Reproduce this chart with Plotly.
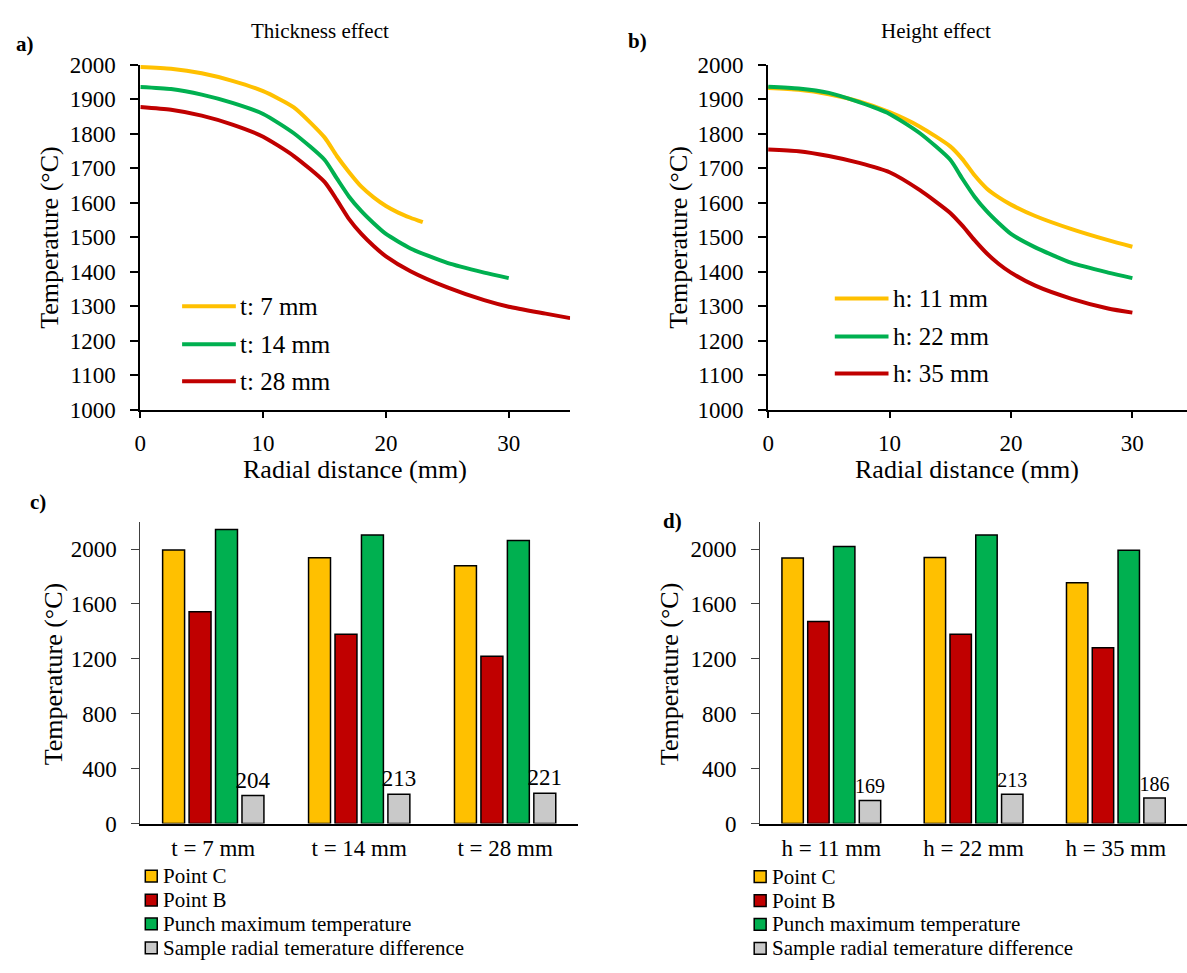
import plotly.graph_objects as go

W, H = 1187, 973
FONT = "Liberation Serif"

# ---- Panel a: thickness effect (radial distance mm, temperature C)
a_x_t7 = [0, 2.5, 5, 7.5, 10, 12.5, 15, 16, 17, 18, 19, 20, 21, 22, 23]
a_y_t7 = [1993, 1988, 1975, 1953, 1923, 1876, 1789, 1735, 1688, 1646, 1615, 1590, 1571, 1556, 1543]
a_x_t14 = [0, 2.5, 5, 7.5, 10, 12.5, 15, 16, 17, 18, 19, 20, 22, 25, 28, 30]
a_y_t14 = [1935, 1929, 1913, 1889, 1857, 1801, 1724, 1670, 1617, 1575, 1540, 1509, 1467, 1425, 1397, 1381]
a_x_t28 = [0, 2.5, 5, 7.5, 10, 12.5, 15, 16, 17, 18, 19, 20, 22, 25, 28, 30, 33, 35]
a_y_t28 = [1877, 1869, 1852, 1826, 1791, 1735, 1660, 1608, 1552, 1509, 1474, 1444, 1401, 1354, 1317, 1298, 1278, 1265]

# ---- Panel b: height effect
b_x = [0, 2.5, 5, 7.5, 10, 12.5, 15, 16, 17, 18, 19, 20, 22, 25, 28, 30]
b_y_h11 = [1932, 1927, 1914, 1893, 1862, 1820, 1763, 1726, 1679, 1641, 1615, 1594, 1561, 1523, 1491, 1472]
b_y_h22 = [1936, 1931, 1918, 1891, 1857, 1801, 1724, 1669, 1617, 1575, 1540, 1509, 1470, 1425, 1397, 1381]
b_y_h35 = [1754, 1749, 1735, 1715, 1688, 1636, 1570, 1533, 1491, 1453, 1422, 1397, 1359, 1321, 1293, 1281]

# ---- Panel c: thickness bars
c_cats = ["t = 7 mm", "t = 14 mm", "t = 28 mm"]
c_point_c = [1993, 1936, 1879]
c_point_b = [1543, 1380, 1219]
c_punch = [2142, 2102, 2062]
c_diff = [204, 213, 221]

# ---- Panel d: height bars
d_cats = ["h = 11 mm", "h = 22 mm", "h = 35 mm"]
d_point_c = [1934, 1938, 1754]
d_point_b = [1472, 1380, 1280]
d_punch = [2019, 2102, 1991]
d_diff = [169, 213, 186]

line_names_a = ["t: 7 mm", "t: 14 mm", "t: 28 mm"]
line_names_b = ["h: 11 mm", "h: 22 mm", "h: 35 mm"]
bar_names = ["Point C", "Point B", "Punch maximum temperature", "Sample radial temerature difference"]

YELLOW, RED, GREEN, GRAY = "#FFC000", "#C00000", "#00B050", "#C9C9C9"
line_colors = [YELLOW, GREEN, RED]
bar_colors = [YELLOW, RED, GREEN, GRAY]


def px(x):
    return x / W


def py(y):
    return 1 - y / H


fig = go.Figure()

for xs, ys, name, col in zip([a_x_t7, a_x_t14, a_x_t28], [a_y_t7, a_y_t14, a_y_t28], line_names_a, line_colors):
    fig.add_trace(go.Scatter(x=xs, y=ys, name=name, mode="lines",
                             line=dict(color=col, width=4, shape="spline", smoothing=0.6),
                             xaxis="x", yaxis="y", showlegend=False))

for ys, name, col in zip([b_y_h11, b_y_h22, b_y_h35], line_names_b, line_colors):
    fig.add_trace(go.Scatter(x=b_x, y=ys, name=name, mode="lines",
                             line=dict(color=col, width=4, shape="spline", smoothing=0.6),
                             xaxis="x2", yaxis="y2", showlegend=False))


def add_bars(cats, series, xa, ya, label_size):
    for i, (vals, name, col) in enumerate(zip(series, bar_names, bar_colors)):
        is_diff = i == 3
        fig.add_trace(go.Bar(x=cats, y=vals, name=name,
                             marker=dict(color=col, line=dict(color="black", width=1.5)),
                             text=[str(v) for v in vals] if is_diff else None,
                             textposition="outside" if is_diff else "none",
                             textfont=dict(family=FONT, size=label_size, color="black"),
                             cliponaxis=False, showlegend=False,
                             xaxis=xa, yaxis=ya))


add_bars(c_cats, [c_point_c, c_point_b, c_punch, c_diff], "x3", "y3", 23)
add_bars(d_cats, [d_point_c, d_point_b, d_punch, d_diff], "x4", "y4", 20)

tickfont = dict(family=FONT, size=23, color="black")

line_xaxis = dict(showline=True, linecolor="black", linewidth=2, ticks="outside", ticklen=6, tickwidth=1.5,
                  tickcolor="black", dtick=10, tick0=0, showgrid=False, zeroline=False, tickfont=tickfont,
                  ticklabelstandoff=6)
line_yaxis = dict(showline=True, linecolor="black", linewidth=2, ticks="outside", ticklen=8, tickwidth=1.5,
                  tickcolor="black", range=[1000, 2000], dtick=100, showgrid=False, zeroline=False,
                  tickfont=tickfont, ticklabelstandoff=10)
bar_xaxis = dict(showline=True, linecolor="black", linewidth=1.5, ticks="", showgrid=False, zeroline=False,
                 tickfont=dict(family=FONT, size=23, color="black"), ticklabelstandoff=3)
bar_yaxis = dict(showline=True, linecolor="#404040", linewidth=1, ticks="outside", ticklen=8, tickcolor="#404040",
                 range=[0, 2200], tickvals=[0, 400, 800, 1200, 1600, 2000], showgrid=False, zeroline=False,
                 tickfont=tickfont, ticklabelstandoff=10)

fig.update_layout(
    width=W, height=H, margin=dict(l=0, r=0, t=0, b=0),
    paper_bgcolor="white", plot_bgcolor="white",
    font=dict(family=FONT, color="black"),
    barmode="group", bargap=0.275, bargroupgap=0.17, uniformtext=dict(mode=False),
    showlegend=False,
    xaxis=dict(line_xaxis, domain=[px(135), px(567)], range=[0, 35], anchor="y"),
    yaxis=dict(line_yaxis, domain=[py(408), py(54)], anchor="x"),
    xaxis2=dict(line_xaxis, domain=[px(766), px(1187)], range=[0, 34.5], anchor="y2"),
    yaxis2=dict(line_yaxis, domain=[py(408), py(54)], anchor="x2"),
    xaxis3=dict(bar_xaxis, domain=[px(135), px(575)], anchor="y3"),
    yaxis3=dict(bar_yaxis, domain=[py(833), py(523)], anchor="x3"),
    xaxis4=dict(bar_xaxis, domain=[px(758), px(1187)], anchor="y4"),
    yaxis4=dict(bar_yaxis, domain=[py(833), py(523)], anchor="x4"),
)
fig.update_traces(constraintext="none", selector=dict(type="bar"))

ann = []
shapes = []


def add_text(text, x, y, size, angle=0, bold=False, xanchor="center"):
    ann.append(dict(text=("<b>%s</b>" % text) if bold else text, x=px(x), y=py(y), xref="paper", yref="paper",
                    showarrow=False, textangle=angle, xanchor=xanchor, yanchor="middle",
                    font=dict(family=FONT, size=size, color="black")))


# panel titles / labels
add_text("Thickness effect", 316, 19, 21)
add_text("Height effect", 935, 20, 21)
add_text("a)", 19, 33, 21, bold=True)
add_text("b)", 635, 30, 21, bold=True)
add_text("c)", 32, 503, 21, bold=True)
add_text("d)", 670, 522, 21, bold=True)
add_text("Temperature (°C)", 43, 231, 26, angle=-90)
add_text("Temperature (°C)", 675, 231, 26, angle=-90)
add_text("Temperature (°C)", 48, 679, 26, angle=-90)
add_text("Temperature (°C)", 667, 679, 26, angle=-90)
add_text("Radial distance (mm)", 351, 470, 26)
add_text("Radial distance (mm)", 966, 470, 26)

# line legends (panel a, b)
for names, colors, x0, x1, tx, rows in [
    (line_names_a, line_colors, 177, 231, 233, [302, 341, 379]),
    (line_names_b, line_colors, 833, 887, 889, [294, 333, 371]),
]:
    for name, col, yy in zip(names, colors, rows):
        shapes.append(dict(type="line", xref="paper", yref="paper", x0=px(x0), x1=px(x1), y0=py(yy), y1=py(yy),
                           line=dict(color=col, width=4)))
        add_text(name, tx, yy, 25, xanchor="left")

# bar legends (panel c, d)
for sx, tx, rows in [(140, 156, [887, 911.5, 936, 960.5]), (752, 768, [887.5, 912, 936.5, 961])]:
    for name, col, yy in zip(bar_names, bar_colors, rows):
        shapes.append(dict(type="rect", xref="paper", yref="paper", x0=px(sx), x1=px(sx + 12),
                           y0=py(yy + 6), y1=py(yy - 6), fillcolor=col, line=dict(color="black", width=1.5)))
        add_text(name, tx, yy, 21, xanchor="left")

fig.update_layout(annotations=ann, shapes=shapes)

fig.write_html("out.html")
